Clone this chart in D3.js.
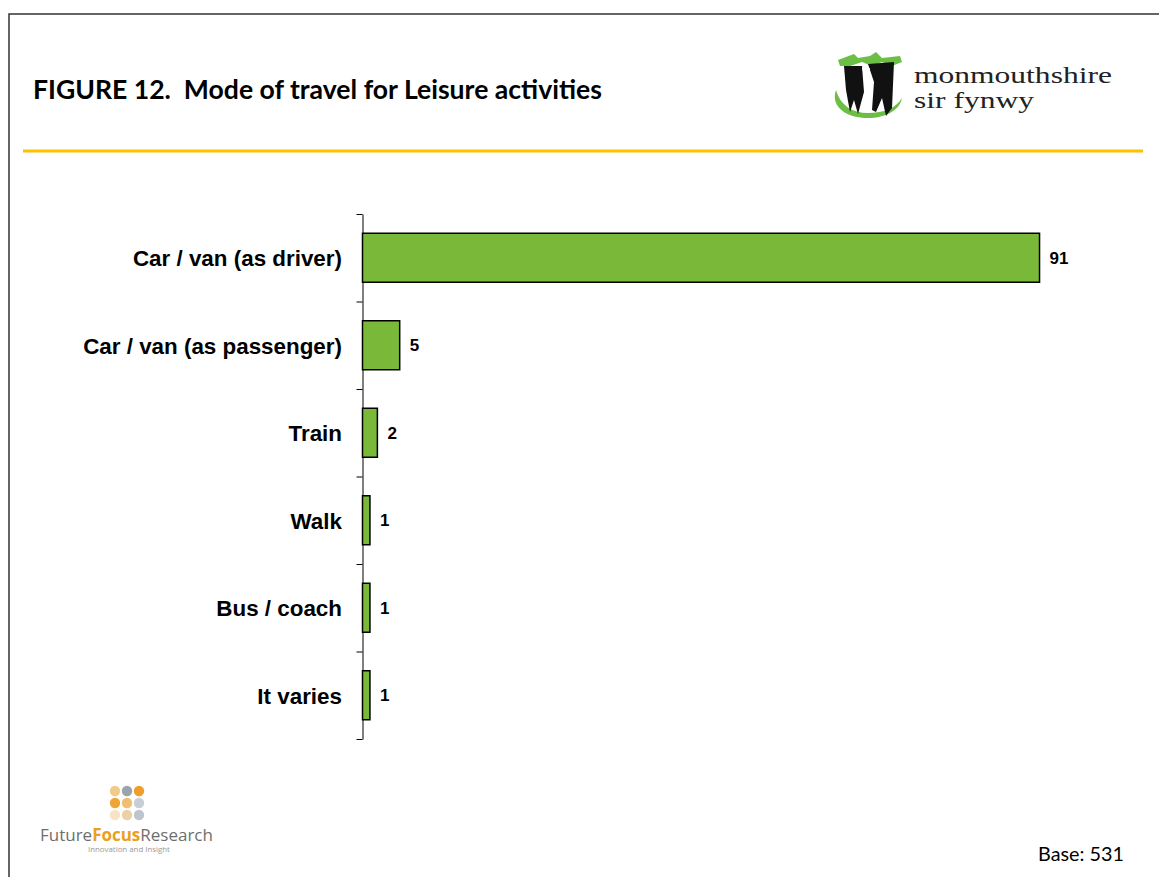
<!DOCTYPE html>
<html>
<head>
<meta charset="utf-8">
<script src="https://cdn.jsdelivr.net/npm/d3@7"></script>
<style>
  html, body { margin: 0; padding: 0; background: #fff; }
  svg { display: block; }
</style>
</head>
<body>
<svg id="chart" width="1159" height="877"></svg>
<script>
// Travel modes for leisure activities, % of respondents
const categories = ["Car / van (as driver)", "Car / van (as passenger)", "Train", "Walk", "Bus / coach", "It varies"];
const values = [91, 5, 2, 1, 1, 1];
const titleText = "FIGURE 12.  Mode of travel for Leisure activities";
const baseText = "Base: 531";

const svg = d3.select("#chart");
const W = 1159, H = 877;

// slide frame (open to the right and bottom)
svg.append("path")
  .attr("d", `M9,${H + 5} V14 H${W + 5}`)
  .attr("fill", "none").attr("stroke", "#333").attr("stroke-width", 1.5);

// fit a text element to a target width by adjusting font size
function fitWidth(sel, target) {
  const node = sel.node();
  const fs = parseFloat(sel.attr("font-size"));
  const w = node.getComputedTextLength();
  sel.attr("font-size", (fs * target / w).toFixed(2));
}

// title
const title = svg.append("text")
  .attr("x", 33).attr("y", 99)
  .attr("font-family", "Lato, 'Open Sans', sans-serif")
  .attr("font-weight", 700).attr("font-size", 22)
  .attr("fill", "#000")
  .attr("xml:space", "preserve")
  .style("white-space", "pre")
  .text(titleText);
fitWidth(title, 569);

// separator rule
svg.append("line")
  .attr("x1", 23).attr("x2", 1143).attr("y1", 151).attr("y2", 151)
  .attr("stroke", "#FFC000").attr("stroke-width", 3);

// council logo
const logo = svg.append("g").attr("transform", "translate(832,50)");
// green base arc
logo.append("path")
  .attr("d", "M4,40 C-2,58 16,68 36,68 C54,68 68,60 70,48 C64,58 52,63 36,63 C20,63 8,55 4,40 Z")
  .attr("fill", "#6DBE45");
// green slanted top bands
logo.append("path")
  .attr("d", "M6,10 L22,4 L26,8 L38,6 L44,2 L50,8 L68,6 L70,12 L60,16 L50,12 L40,16 L30,12 L18,16 L8,16 Z")
  .attr("fill", "#6DBE45");
// tower body
logo.append("path")
  .attr("d", "M12,16 L30,16 L32,42 L26,64 L22,50 L18,62 L14,40 Z")
  .attr("fill", "#111");
logo.append("path")
  .attr("d", "M36,14 L62,12 L60,58 L54,66 L50,48 L44,62 L40,60 L42,32 Z")
  .attr("fill", "#111");
logo.append("path")
  .attr("d", "M30,18 L38,18 L34,32 Z")
  .attr("fill", "#fff");
const mon1 = logo.append("text")
  .attr("font-family", "'Liberation Serif', 'DejaVu Serif', serif")
  .attr("font-size", 24).attr("fill", "#222")
  .text("monmouthshire");
const scaleX = 198 / mon1.node().getComputedTextLength();
mon1.attr("transform", `translate(82,32.7) scale(${scaleX},1)`);
logo.append("text")
  .attr("transform", `translate(82,57.5) scale(${scaleX},1)`)
  .attr("font-family", "'Liberation Serif', 'DejaVu Serif', serif")
  .attr("font-size", 24).attr("fill", "#222")
  .text("sir fynwy");

// chart area
const axisX = 362.5, plotTop = 214, plotBottom = 739;

const x = d3.scaleLinear().domain([0, 100]).range([axisX, axisX + 744]);
const y = d3.scaleBand().domain(categories).range([plotTop, plotBottom])
  .paddingInner(0.44).paddingOuter(0.22);

// axis with ticks at category boundaries
const boundary = d3.scaleLinear().domain([0, categories.length]).range([plotTop, plotBottom]);
const axisG = svg.append("g").attr("transform", `translate(${axisX},0)`)
  .call(d3.axisLeft(boundary).tickValues(d3.range(categories.length + 1))
    .tickFormat("").tickSize(6).tickSizeOuter(0));
axisG.select(".domain").attr("stroke", "#000").attr("stroke-width", 1);
axisG.selectAll(".tick line").attr("stroke", "#000").attr("stroke-width", 1);

// bars
svg.append("g").selectAll("rect")
  .data(values)
  .join("rect")
  .attr("x", axisX)
  .attr("y", (d, i) => y(categories[i]))
  .attr("width", d => x(d) - x(0))
  .attr("height", y.bandwidth())
  .attr("fill", "#7AB83A")
  .attr("stroke", "#000")
  .attr("stroke-width", 1.5);

// category labels
svg.append("g").selectAll("text")
  .data(categories)
  .join("text")
  .attr("x", 342)
  .attr("y", d => y(d) + y.bandwidth() / 2)
  .attr("dy", "0.38em")
  .attr("text-anchor", "end")
  .attr("font-family", "'Liberation Sans', Arial, sans-serif")
  .attr("font-weight", 700).attr("font-size", 22.4)
  .attr("fill", "#000")
  .text(d => d);

// value labels
svg.append("g").selectAll("text")
  .data(values)
  .join("text")
  .attr("x", d => x(d) + 10)
  .attr("y", (d, i) => y(categories[i]) + y.bandwidth() / 2)
  .attr("dy", "0.36em")
  .attr("font-family", "'Liberation Sans', Arial, sans-serif")
  .attr("font-weight", 700).attr("font-size", 17)
  .attr("fill", "#000")
  .text(d => d);

// research agency logo
const dotColors = [
  ["#F4C98C", "#9BA3AB", "#EE9E2A"],
  ["#EFA435", "#F1BD70", "#C9CDD6"],
  ["#F8E3C6", "#EDD1A6", "#C0C5CD"]
];
const ffr = svg.append("g");
dotColors.forEach((row, r) => row.forEach((c, k) => {
  ffr.append("circle")
    .attr("cx", 115 + k * 12).attr("cy", 791 + r * 12)
    .attr("r", 5.2).attr("fill", c);
}));
const ffrText = ffr.append("text")
  .attr("x", 40).attr("y", 841)
  .attr("font-family", "'Open Sans', 'Noto Sans', sans-serif")
  .attr("font-size", 20).attr("fill", "#6E6E6E");
ffrText.append("tspan").text("Future");
ffrText.append("tspan").attr("fill", "#E9A020").attr("font-weight", 700).text("Focus");
ffrText.append("tspan").text("Research");
fitWidth(ffrText, 173);
const sub = ffr.append("text")
  .attr("x", 88).attr("y", 852)
  .attr("font-family", "'Open Sans', sans-serif")
  .attr("font-size", 6).attr("fill", "#999")
  .text("Innovation and Insight");
fitWidth(sub, 82);

// base note
const base = svg.append("text")
  .attr("x", 1038).attr("y", 861)
  .attr("font-family", "Lato, 'Open Sans', sans-serif")
  .attr("font-size", 17).attr("fill", "#000")
  .text(baseText);
fitWidth(base, 86);
</script>
</body>
</html>
